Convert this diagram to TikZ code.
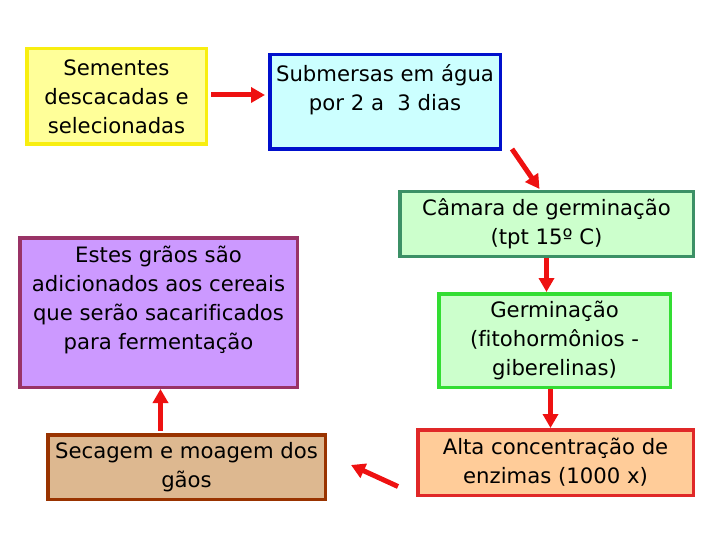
\documentclass[tikz,border=0pt]{standalone}
\usepackage{fontspec}
\setmainfont[Ligatures=NoCommon]{DejaVu Sans}
\usetikzlibrary{arrows.meta,calc}
\definecolor{yelB}{HTML}{F8EE10}
\definecolor{yelF}{HTML}{FFFF99}
\definecolor{bluB}{HTML}{0010CC}
\definecolor{bluF}{HTML}{CCFFFF}
\definecolor{gr1B}{HTML}{3C9066}
\definecolor{grF}{HTML}{CCFFCC}
\definecolor{gr2B}{HTML}{33DD33}
\definecolor{orB}{HTML}{E02828}
\definecolor{orF}{HTML}{FFCC99}
\definecolor{puB}{HTML}{993366}
\definecolor{puF}{HTML}{CC99FF}
\definecolor{taB}{HTML}{993300}
\definecolor{taF}{HTML}{DDB890}
\definecolor{arrR}{HTML}{EE1111}
\tikzset{
  box/.style={draw, line width=3.5pt, align=center, inner sep=0pt,
    font=\fontsize{21.2}{29}\selectfont},
  arr/.style={draw=arrR, line width=5pt, -{Triangle[length=14pt,width=15pt]}},
}
\begin{document}
\begin{tikzpicture}[x=1pt,y=-1pt]
\useasboundingbox (0,0) rectangle (720,540);
\node[box, draw=yelB, fill=yelF, minimum width=179.5pt, minimum height=95.5pt] (b1) at (116.5,96.5) {Sementes\\descacadas e\\selecionadas};
\node[box, draw=bluB, fill=bluF, minimum width=230.5pt, minimum height=94.5pt] (b2) at (385,102) {Submersas em água\\por 2 a \ 3 dias\\\mbox{}};
\node[box, draw=gr1B, fill=grF, minimum width=293.5pt, minimum height=64.5pt] (b3) at (546.5,224) {Câmara de germinação\\(tpt 15º C)};
\node[box, draw=gr2B, fill=grF, minimum width=231.5pt, minimum height=93.5pt] (b4) at (554.5,340.5) {Germinação\\(fitohormônios -\\giberelinas)};
\node[box, draw=orB, fill=orF, minimum width=275.5pt, minimum height=65.5pt] (b5) at (555.5,462.5) {Alta concentração de\\enzimas (1000 x)};
\node[box, draw=puB, fill=puF, minimum width=277.5pt, minimum height=149.5pt] (b6) at (158.5,312.5) {Estes grãos são\\adicionados aos cereais\\que serão sacarificados\\para fermentação\\\mbox{}};
\node[box, draw=taB, fill=taF, minimum width=277.5pt, minimum height=64.5pt] (b7) at (186.5,467) {Secagem e moagem dos\\gãos};
% arrows
\coordinate (a1s) at ($(b1.east)+(3,-1.5)$);
\coordinate (a1e) at ($(b2.west)+(-3,-7)$);
\draw[arr] (a1s) -- (a1e);
\coordinate (a2s) at ($(b2.south east)+(10,-2)$);
\coordinate (a2e) at ($(b3.north)+(-7,-1)$);
\draw[arr] (a2s) -- (a2e);
\draw[arr] (b3.south) -- (b3.south |- b4.north);
\coordinate (a4s) at ($(b4.south)+(-4,0)$);
\draw[arr] (a4s) -- (a4s |- b5.north);
\coordinate (a5s) at ($(b5.west)+(-18,24)$);
\coordinate (a5e) at ($(b7.east)+(24,-2)$);
\draw[arr] (a5s) -- (a5e);
\coordinate (a6s) at ($(b7.north)+(-26,-2)$);
\draw[arr] (a6s) -- (a6s |- b6.south);
\end{tikzpicture}
\end{document}
